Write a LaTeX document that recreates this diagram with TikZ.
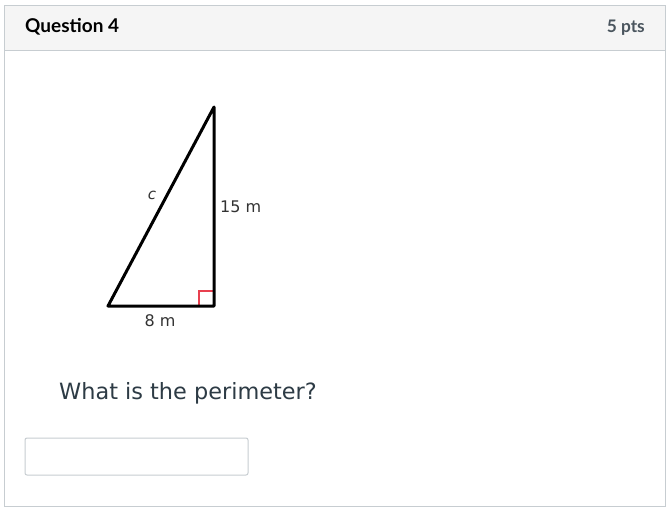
\documentclass[tikz,border=0pt]{standalone}
\usepackage{fontspec}
\setmainfont{Lato}
\newfontfamily\dejavu{DejaVu Sans}
\definecolor{hdrbg}{HTML}{F5F5F5}
\definecolor{frame}{HTML}{C7CDD1}
\definecolor{txt}{HTML}{2D3B45}
\definecolor{ptsc}{HTML}{4A555E}
\definecolor{marker}{HTML}{E8404F}
\begin{document}
\begin{tikzpicture}[x=1pt,y=-1pt,
  side/.style={line width=3pt, line cap=round, line join=round},
  lbl/.style={inner sep=0pt, font=\dejavu\fontsize{16}{19}\selectfont, text=black!80},
]
\useasboundingbox (0,0) rectangle (669,509);
\fill[white] (0,0) rectangle (669,509);
% header
\fill[hdrbg] (4,5) rectangle (665,50);
\draw[frame, line width=1pt] (4,5) rectangle (665,506);
\draw[frame, line width=1pt] (4,50) -- (665,50);
\node[anchor=west, inner sep=0pt, font=\bfseries\fontsize{19}{22}\selectfont, text=black] (q) at (25,27) {Question 4};
\node[anchor=east, inner sep=0pt, font=\bfseries\fontsize{17.3}{20}\selectfont, text=ptsc] (pts) at (645,28) {5 pts};
% triangle
\coordinate (A) at (108,306);
\coordinate (B) at (214,306);
\coordinate (C) at (214,107);
\draw[marker, line width=2pt] (199,306) -- (199,291) -- (214,291);
\draw[side] (A) -- (B) -- (C) -- cycle;
\node[lbl, font=\dejavu\itshape\fontsize{15}{18}\selectfont] (c) at (152,195) {c};
\node[lbl, anchor=west] (h) at (220,207) {15 m};
\node[lbl] (b) at (160,321) {8 m};
% question text
\node[anchor=west, inner sep=0pt, font=\dejavu\fontsize{22.4}{26}\selectfont, text=txt] (qt) at (59,393) {What is the perimeter?};
% answer box
\draw[frame, line width=1pt, rounded corners=2pt] (25,438) rectangle (248,475);
\end{tikzpicture}
\end{document}
